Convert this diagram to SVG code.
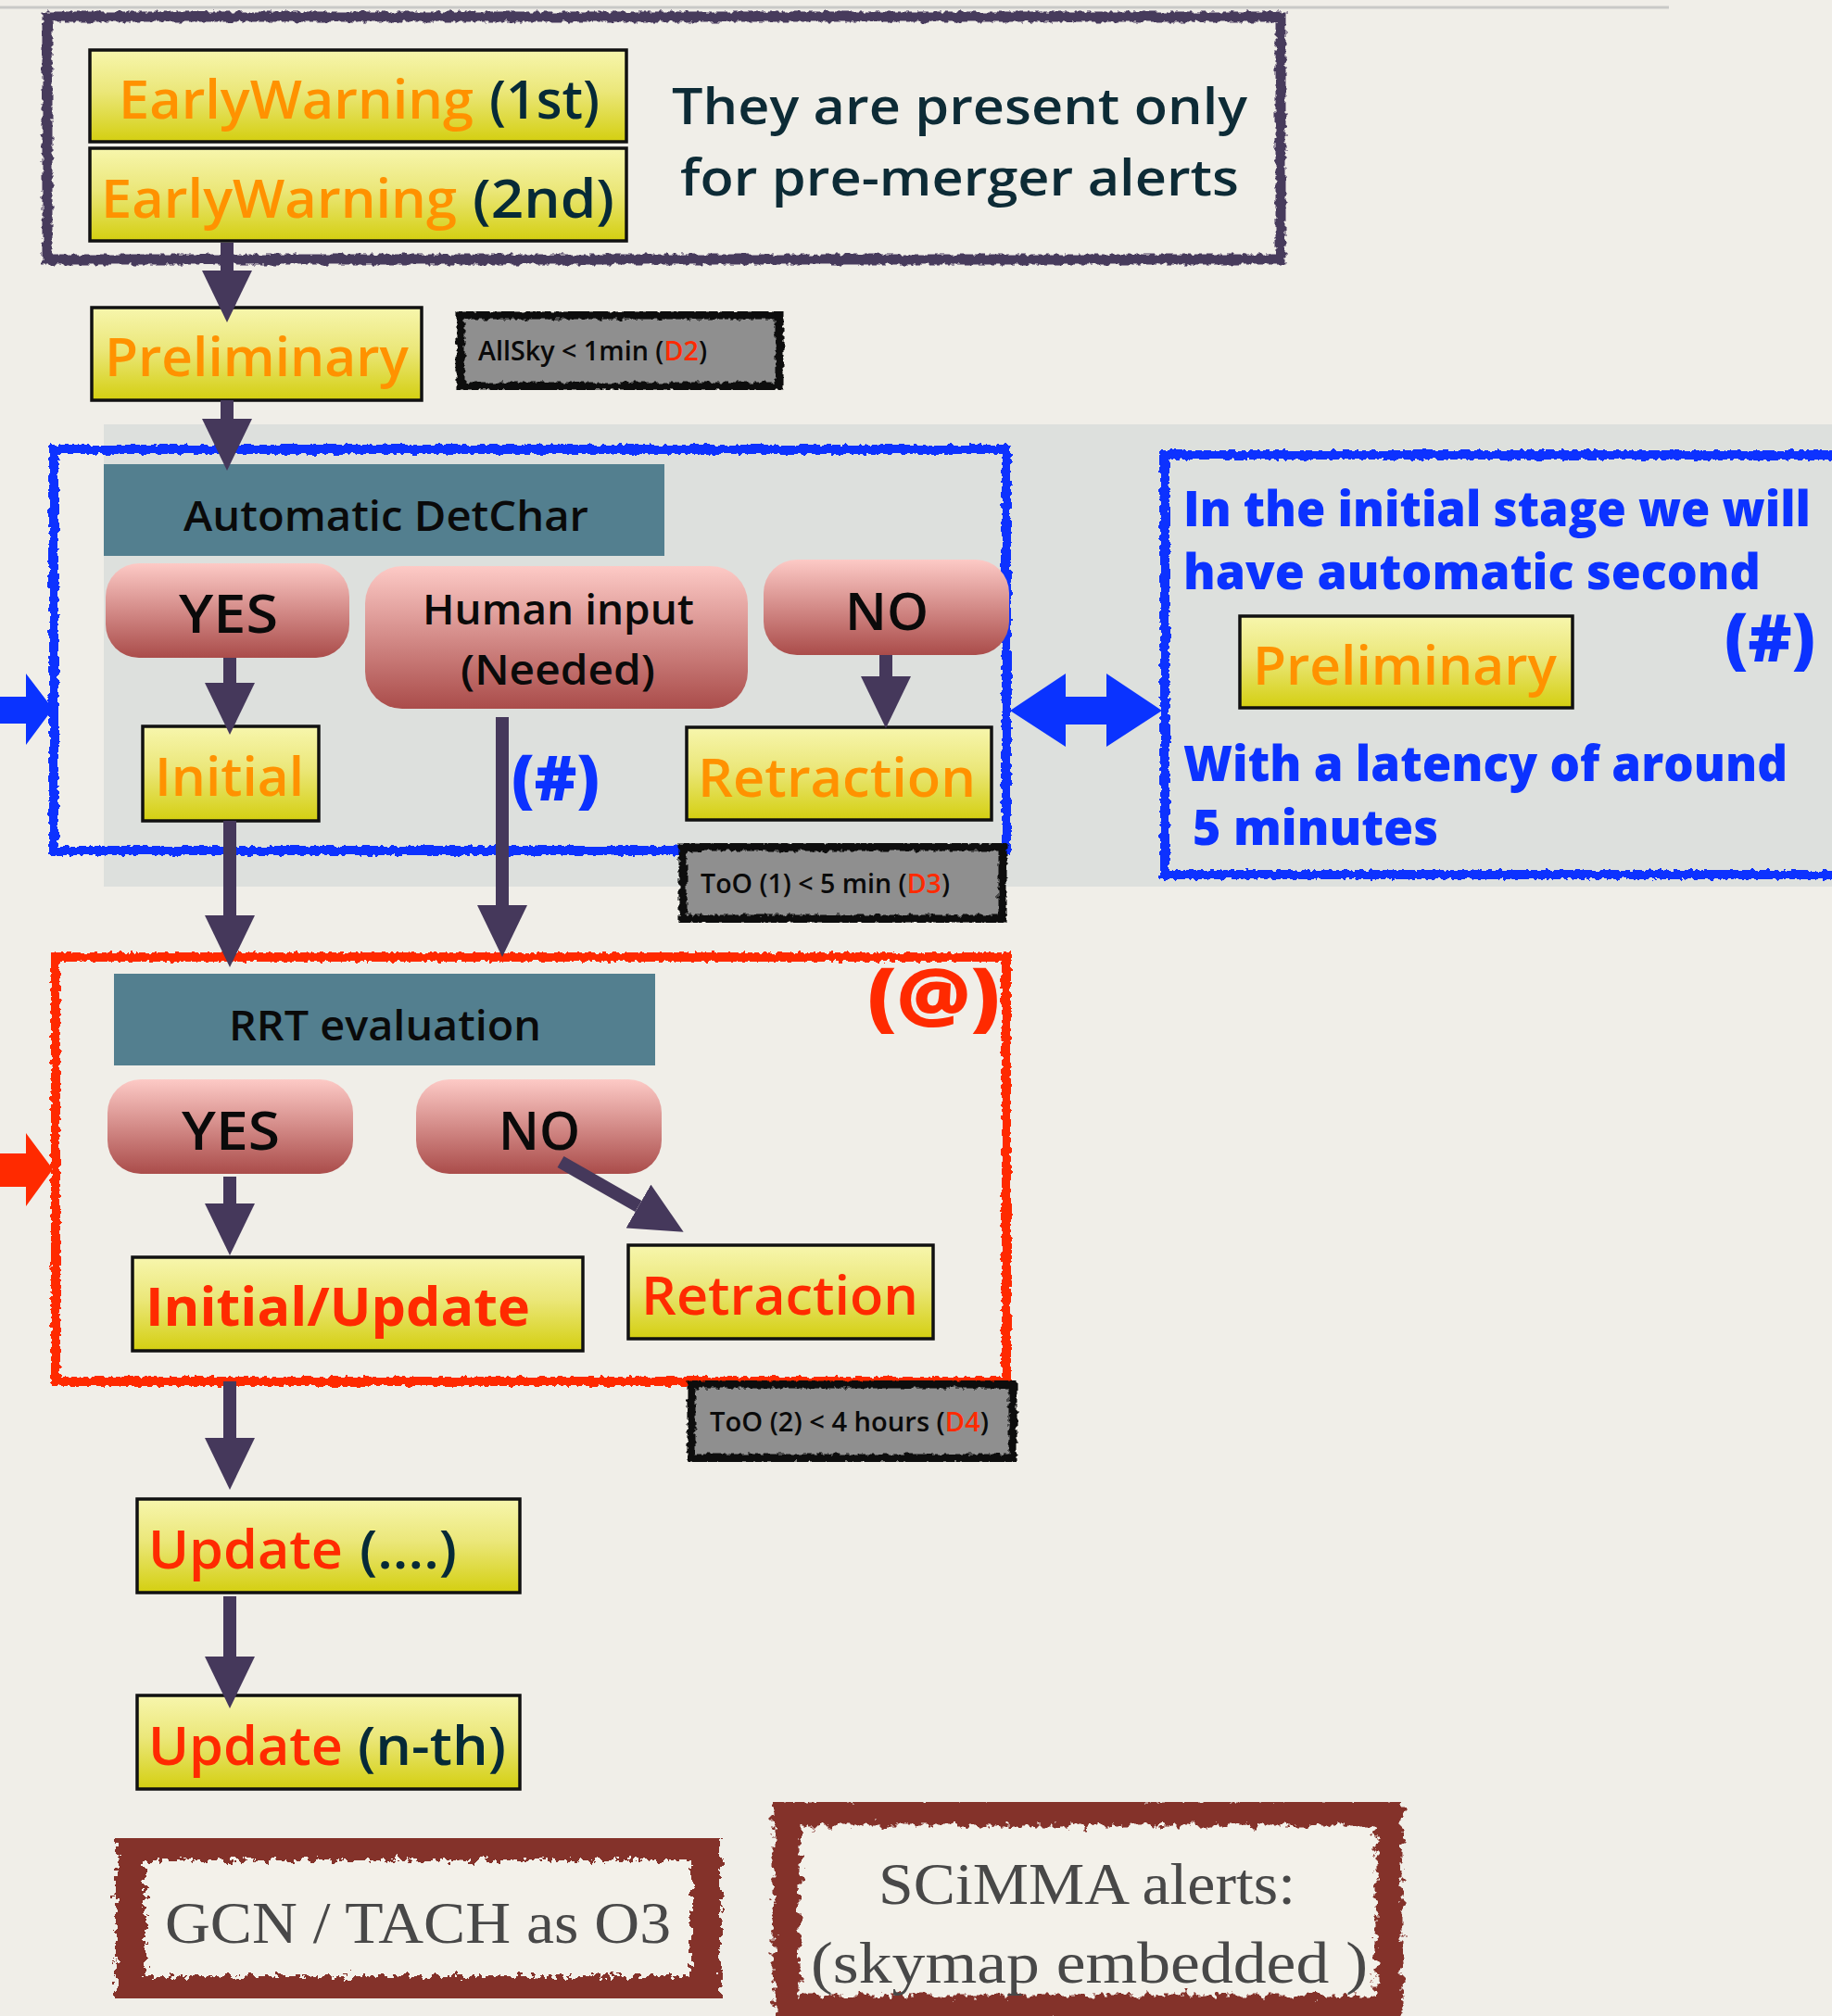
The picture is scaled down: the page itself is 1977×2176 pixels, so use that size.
<svg xmlns="http://www.w3.org/2000/svg" width="1977" height="2176" viewBox="0 0 1977 2176">
<style>
  .sans { font-family: "Open Sans", "Noto Sans", "Liberation Sans", sans-serif; }
  .serif { font-family: "Liberation Serif", "DejaVu Serif", serif; }
  .ybox { fill: url(#yel); stroke: #111; stroke-width: 3.5; }
  .pill { fill: url(#pink); }
  .teal { fill: #537f8f; }
  .gbox { fill: #8f8f8f; stroke: #0a0a0a; stroke-width: 9; filter: url(#rough); }
  .orange { fill: #ff9200; }
  .navy { fill: #062a37; }
  .redt { fill: #ff2a00; }
  .bluet { fill: #0b32ff; }
  .blk { fill: #0a0a0a; }
  .conn { stroke: #45385b; stroke-width: 14; fill: none; }
</style>
<defs>
  <linearGradient id="yel" x1="0" y1="0" x2="0" y2="1">
    <stop offset="0" stop-color="#f7f6ad"/>
    <stop offset="0.45" stop-color="#ebe77a"/>
    <stop offset="1" stop-color="#d4cf10"/>
  </linearGradient>
  <linearGradient id="pink" x1="0" y1="0" x2="0" y2="1">
    <stop offset="0" stop-color="#fdcac6"/>
    <stop offset="1" stop-color="#aa4c4a"/>
  </linearGradient>
  <filter id="rough" x="-5%" y="-5%" width="110%" height="110%">
    <feTurbulence type="fractalNoise" baseFrequency="0.18" numOctaves="2" seed="3" result="n"/>
    <feDisplacementMap in="SourceGraphic" in2="n" scale="7" xChannelSelector="R" yChannelSelector="G"/>
  </filter>
  <filter id="roughbig" x="-5%" y="-5%" width="110%" height="110%">
    <feTurbulence type="fractalNoise" baseFrequency="0.12" numOctaves="3" seed="7" result="n"/>
    <feDisplacementMap in="SourceGraphic" in2="n" scale="18" xChannelSelector="R" yChannelSelector="G"/>
  </filter>
  <marker id="ah" viewBox="0 0 56 54" refX="0" refY="27" markerWidth="56" markerHeight="54" markerUnits="userSpaceOnUse" orient="auto">
    <path d="M0,0 L56,27 L0,54 Z" fill="#45385b"/>
  </marker>
</defs>

<!-- background -->
<rect x="0" y="0" width="1977" height="2176" fill="#f0eee8"/>
<line x1="0" y1="8" x2="1801" y2="8" stroke="#c9c9c7" stroke-width="3"/>

<!-- grey backdrop panel -->
<rect x="112" y="458" width="1865" height="499" fill="#dde0dd"/>

<!-- pre-merger group -->
<g id="premerger-group">
  <rect x="51" y="18" width="1331" height="262" fill="none" stroke="#463a5c" stroke-width="11" filter="url(#rough)"/>
  <text class="sans" x="725" y="134" font-size="55" font-weight="600" fill="#0d2b36" textLength="621" lengthAdjust="spacingAndGlyphs">They are present only</text>
  <text class="sans" x="734" y="211" font-size="55" font-weight="600" fill="#0d2b36" textLength="603" lengthAdjust="spacingAndGlyphs">for pre-merger alerts</text>
</g>

<g id="earlywarning-1">
  <rect class="ybox" x="97" y="54" width="579" height="99"/>
  <text class="sans" y="128" font-size="57" font-weight="600"><tspan class="orange" x="128" textLength="383" lengthAdjust="spacingAndGlyphs">EarlyWarning</tspan><tspan class="navy" x="528" textLength="119" lengthAdjust="spacingAndGlyphs">(1st)</tspan></text>
</g>

<g id="earlywarning-2">
  <rect class="ybox" x="97" y="160" width="579" height="100"/>
  <text class="sans" y="235" font-size="57" font-weight="600"><tspan class="orange" x="109" textLength="384" lengthAdjust="spacingAndGlyphs">EarlyWarning</tspan><tspan class="navy" x="510" textLength="153" lengthAdjust="spacingAndGlyphs">(2nd)</tspan></text>
</g>

<g id="preliminary">
  <rect class="ybox" x="99" y="332" width="356" height="100"/>
  <text class="sans orange" x="113" y="406" font-size="57" font-weight="600" textLength="328" lengthAdjust="spacingAndGlyphs">Preliminary</text>
</g>

<g id="allsky-latency">
  <rect class="gbox" x="497" y="340" width="344" height="77"/>
  <text class="sans blk" x="516" y="389" font-size="29" font-weight="600" textLength="247" lengthAdjust="spacingAndGlyphs">AllSky &lt; 1min (<tspan class="redt">D2</tspan>)</text>
</g>

<!-- Automatic DetChar stage -->
<g id="detchar-group">
  <rect x="58" y="485" width="1028" height="433" fill="none" stroke="#0a33ff" stroke-width="10" filter="url(#rough)"/>
</g>

<g id="automatic-detchar">
  <rect class="teal" x="112" y="501" width="605" height="99"/>
  <text class="sans blk" x="198" y="573" font-size="46" font-weight="600" textLength="437" lengthAdjust="spacingAndGlyphs">Automatic DetChar</text>
</g>

<g id="detchar-yes">
  <rect class="pill" x="114" y="608" width="263" height="102" rx="36"/>
  <text class="sans blk" x="193" y="683" font-size="57" font-weight="600" textLength="107" lengthAdjust="spacingAndGlyphs">YES</text>
</g>

<g id="human-input">
  <rect class="pill" x="394" y="611" width="413" height="154" rx="40"/>
  <text class="sans blk" x="456" y="674" font-size="45" font-weight="600" textLength="293" lengthAdjust="spacingAndGlyphs">Human input</text>
  <text class="sans blk" x="497" y="739" font-size="45" font-weight="600" textLength="210" lengthAdjust="spacingAndGlyphs">(Needed)</text>
</g>

<g id="detchar-no">
  <rect class="pill" x="824" y="604" width="265" height="103" rx="36"/>
  <text class="sans blk" x="912" y="680" font-size="56" font-weight="600" textLength="90" lengthAdjust="spacingAndGlyphs">NO</text>
</g>

<g id="initial">
  <rect class="ybox" x="154" y="784" width="190" height="102"/>
  <text class="sans orange" x="167" y="859" font-size="58" font-weight="600" textLength="161" lengthAdjust="spacingAndGlyphs">Initial</text>
</g>

<g id="hash-label">
  <text class="sans bluet" x="552" y="864" font-size="68" font-weight="800" textLength="95" lengthAdjust="spacingAndGlyphs">(#)</text>
</g>

<g id="retraction-1">
  <rect class="ybox" x="741" y="785" width="329" height="100"/>
  <text class="sans orange" x="753" y="860" font-size="58" font-weight="600" textLength="300" lengthAdjust="spacingAndGlyphs">Retraction</text>
</g>

<g id="too1-latency">
  <rect class="gbox" x="737" y="914" width="345" height="78"/>
  <text class="sans blk" x="756" y="964" font-size="29" font-weight="600" textLength="269" lengthAdjust="spacingAndGlyphs">ToO (1) &lt; 5 min (<tspan class="redt">D3</tspan>)</text>
</g>

<!-- right note -->
<g id="second-preliminary-note">
  <rect x="1257" y="491" width="760" height="453" fill="none" stroke="#0a33ff" stroke-width="10" filter="url(#rough)"/>
  <text class="sans bluet" x="1277" y="568" font-size="53" font-weight="800" textLength="677" lengthAdjust="spacingAndGlyphs">In the initial stage we will</text>
  <text class="sans bluet" x="1277" y="636" font-size="53" font-weight="800" textLength="623" lengthAdjust="spacingAndGlyphs">have automatic second</text>
  <text class="sans bluet" x="1861" y="714" font-size="70" font-weight="800" textLength="98" lengthAdjust="spacingAndGlyphs">(#)</text>
  <text class="sans bluet" x="1277" y="843" font-size="53" font-weight="800" textLength="652" lengthAdjust="spacingAndGlyphs">With a latency of around</text>
  <text class="sans bluet" x="1287" y="912" font-size="53" font-weight="800" textLength="265" lengthAdjust="spacingAndGlyphs">5 minutes</text>
</g>

<g id="second-preliminary">
  <rect class="ybox" x="1338" y="665" width="359" height="99"/>
  <text class="sans orange" x="1352" y="739" font-size="57" font-weight="600" textLength="328" lengthAdjust="spacingAndGlyphs">Preliminary</text>
</g>

<!-- RRT stage -->
<g id="rrt-group">
  <rect x="60" y="1033" width="1026" height="458" fill="none" stroke="#ff2a00" stroke-width="10" filter="url(#rough)"/>
  <text class="sans redt" x="936" y="1103" font-size="80" font-weight="800" textLength="143" lengthAdjust="spacingAndGlyphs">(@)</text>
</g>

<g id="rrt-evaluation">
  <rect class="teal" x="123" y="1051" width="584" height="99"/>
  <text class="sans blk" x="247" y="1123" font-size="46" font-weight="600" textLength="337" lengthAdjust="spacingAndGlyphs">RRT evaluation</text>
</g>

<g id="rrt-yes">
  <rect class="pill" x="116" y="1165" width="265" height="102" rx="36"/>
  <text class="sans blk" x="196" y="1241" font-size="57" font-weight="600" textLength="106" lengthAdjust="spacingAndGlyphs">YES</text>
</g>

<g id="rrt-no">
  <rect class="pill" x="449" y="1165" width="265" height="102" rx="36"/>
  <text class="sans blk" x="538" y="1241" font-size="57" font-weight="600" textLength="88" lengthAdjust="spacingAndGlyphs">NO</text>
</g>

<g id="initial-update">
  <rect class="ybox" x="143" y="1357" width="486" height="101"/>
  <text class="sans redt" x="157" y="1431" font-size="58" font-weight="700" textLength="415" lengthAdjust="spacingAndGlyphs">Initial/Update</text>
</g>

<g id="retraction-2">
  <rect class="ybox" x="678" y="1344" width="329" height="101"/>
  <text class="sans redt" x="692" y="1419" font-size="58" font-weight="600" textLength="299" lengthAdjust="spacingAndGlyphs">Retraction</text>
</g>

<g id="too2-latency">
  <rect class="gbox" x="746" y="1494" width="347" height="80"/>
  <text class="sans blk" x="766" y="1545" font-size="29" font-weight="600" textLength="301" lengthAdjust="spacingAndGlyphs">ToO (2) &lt; 4 hours (<tspan class="redt">D4</tspan>)</text>
</g>

<g id="update-mid">
  <rect class="ybox" x="148" y="1618" width="413" height="101"/>
  <text class="sans" y="1693" font-size="58" font-weight="600"><tspan class="redt" x="160" textLength="210" lengthAdjust="spacingAndGlyphs">Update</tspan><tspan class="navy" x="388" textLength="105" lengthAdjust="spacingAndGlyphs">(....)</tspan></text>
</g>

<g id="update-nth">
  <rect class="ybox" x="148" y="1830" width="413" height="101"/>
  <text class="sans" y="1905" font-size="58" font-weight="600"><tspan class="redt" x="160" textLength="210" lengthAdjust="spacingAndGlyphs">Update</tspan><tspan class="navy" x="386" textLength="160" lengthAdjust="spacingAndGlyphs">(n-th)</tspan></text>
</g>

<g id="gcn-tach">
  <rect x="141" y="1992" width="621" height="157" fill="#f3f1ea" stroke="#84302a" stroke-width="32" filter="url(#roughbig)"/>
  <text class="serif" x="178" y="2097" font-size="64" fill="#484848" textLength="546" lengthAdjust="spacingAndGlyphs">GCN / TACH as O3</text>
</g>

<g id="scimma">
  <rect x="849" y="1956" width="650" height="212" fill="#f3f1ea" stroke="#84302a" stroke-width="29" filter="url(#roughbig)"/>
  <text class="serif" x="948" y="2055" font-size="64" fill="#484848" textLength="450" lengthAdjust="spacingAndGlyphs">SCiMMA alerts:</text>
  <text class="serif" x="875" y="2140" font-size="64" fill="#484848" textLength="601" lengthAdjust="spacingAndGlyphs">(skymap embedded )</text>
</g>

<!-- connectors -->
<g id="connectors">
  <line class="conn" x1="245" y1="262" x2="245" y2="292" marker-end="url(#ah)"/>
  <line class="conn" x1="245" y1="432" x2="245" y2="452" marker-end="url(#ah)"/>
  <line class="conn" x1="248" y1="710" x2="248" y2="737" marker-end="url(#ah)"/>
  <line class="conn" x1="956" y1="707" x2="956" y2="730" marker-end="url(#ah)"/>
  <line class="conn" x1="542" y1="774" x2="542" y2="977" marker-end="url(#ah)"/>
  <line class="conn" x1="248" y1="886" x2="248" y2="988" marker-end="url(#ah)"/>
  <line class="conn" x1="248" y1="1270" x2="248" y2="1299" marker-end="url(#ah)"/>
  <line class="conn" x1="605" y1="1254" x2="689" y2="1302" marker-end="url(#ah)"/>
  <line class="conn" x1="248" y1="1491" x2="248" y2="1552" marker-end="url(#ah)"/>
  <line class="conn" x1="248" y1="1723" x2="248" y2="1788" marker-end="url(#ah)"/>
  <polygon points="0,752 28,752 28,727 57,765 28,804 28,781 0,781" fill="#0a33ff"/>
  <polygon points="1090,767 1150,727 1150,752 1194,752 1194,727 1254,767 1194,806 1194,782 1150,782 1150,806" fill="#0a33ff"/>
  <polygon points="0,1245 28,1245 28,1223 57,1262 28,1302 28,1281 0,1281" fill="#ff2a00"/>
</g>
</svg>
